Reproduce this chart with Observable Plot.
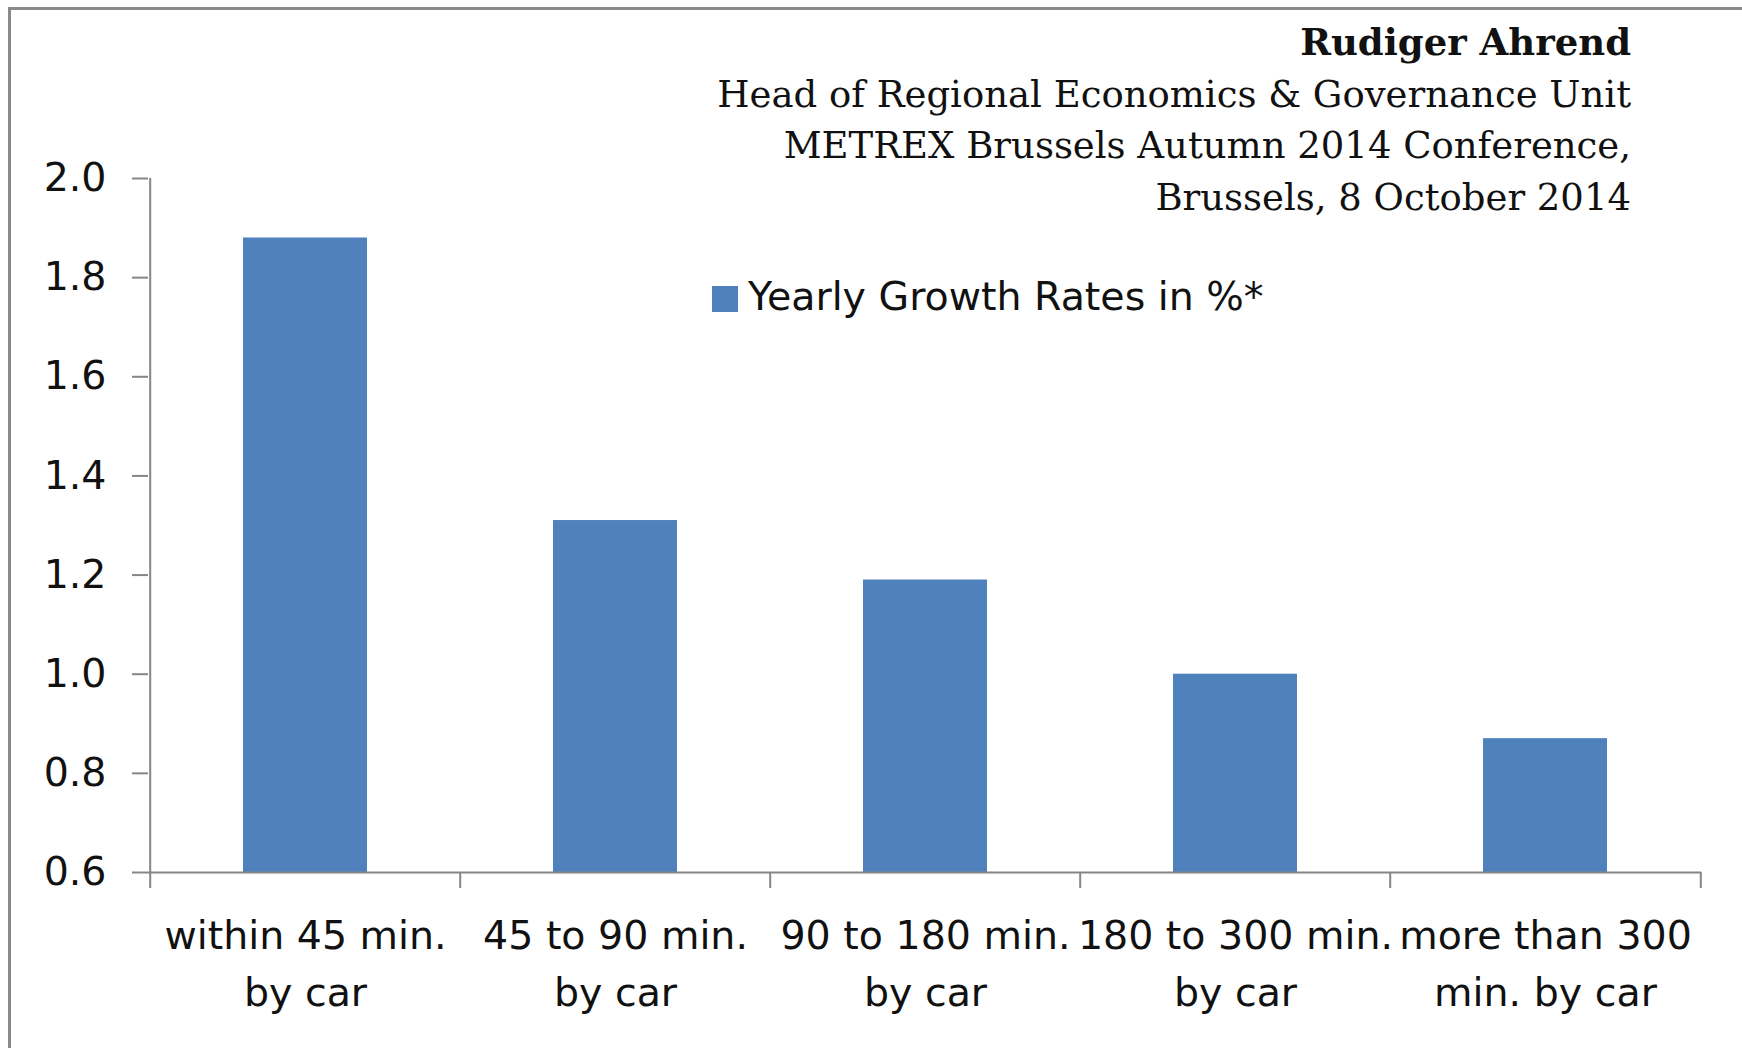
<!DOCTYPE html>
<html>
<head>
<meta charset="utf-8">
<script src="https://cdn.jsdelivr.net/npm/d3@7"></script>
<script src="https://cdn.jsdelivr.net/npm/@observablehq/plot@0.6"></script>
<style>
  html, body { margin: 0; padding: 0; background: #fff; overflow: hidden; }
  #wrap { position: relative; width: 1742px; height: 1048px; overflow: hidden; }
  #border { position: absolute; left: 8px; top: 7px; width: 1800px; height: 1100px;
            border-top: 3px solid #8a8a8a; border-left: 3px solid #8a8a8a; box-sizing: border-box; }
  #chart { position: absolute; left: 0; top: 0; }
  #header { position: absolute; right: 111px; top: 17px; text-align: right;
            font-family: "DejaVu Serif", serif; font-size: 37px; line-height: 51.5px; color: #111; z-index: 2; }
  #header .name { font-weight: bold; }
  #legend-swatch { position: absolute; left: 712px; top: 286px; width: 26px; height: 26px; z-index: 2; }
  #legend-text { position: absolute; left: 748px; top: 277px; font-family: "DejaVu Sans", sans-serif;
                 font-size: 39.5px; line-height: 39.5px; color: #111; white-space: nowrap; z-index: 2; }
  #chart svg g[aria-label="y-axis"] line,
  #chart svg g[aria-label="y-axis"] path,
  #chart svg g[aria-label="y-axis tick"] path { stroke: #868686; stroke-width: 2px; }
</style>
</head>
<body>
<div id="wrap">
  <div id="border"></div>
  <div id="chart"></div>
  <div id="header"></div>
  <div id="legend-swatch"></div>
  <div id="legend-text"></div>
</div>
<script>
// ---- data ----
const categories = [
  "within 45 min. by car",
  "45 to 90 min. by car",
  "90 to 180 min. by car",
  "180 to 300 min. by car",
  "more than 300 min. by car"
];
const categoryLabels = [
  "within 45 min.\nby car",
  "45 to 90 min.\nby car",
  "90 to 180 min.\nby car",
  "180 to 300 min.\nby car",
  "more than 300\nmin. by car"
];
const growthRates = [1.88, 1.31, 1.19, 1.00, 0.87];
const yTicks = [0.6, 0.8, 1.0, 1.2, 1.4, 1.6, 1.8, 2.0];
const seriesName = "Yearly Growth Rates in %*";
const headerLines = [
  "Rudiger Ahrend",
  "Head of Regional Economics & Governance Unit",
  "METREX Brussels Autumn 2014 Conference,",
  "Brussels, 8 October 2014"
];

// ---- styling / layout ----
const barColor = "#4F81BD";
const axisColor = "#868686";
const W = 1742, H = 1048;
const mL = 148, mR = 41, mT = 178, mB = 176;
const step = (W - mL - mR) / categories.length;

const rows = categories.map((c, i) => ({category: c, value: growthRates[i], label: categoryLabels[i]}));
const yMin = yTicks[0], yMax = yTicks[yTicks.length - 1];

const chart = Plot.plot({
  width: W,
  height: H,
  marginLeft: mL,
  marginRight: mR,
  marginTop: mT,
  marginBottom: mB,
  style: {fontFamily: "DejaVu Sans, sans-serif", fontSize: "39.5px", color: "#111", background: "transparent"},
  x: {domain: categories, paddingInner: 0.6, paddingOuter: 0.3, axis: null},
  y: {domain: [yMin, yMax], ticks: yTicks, tickFormat: d => d.toFixed(1), tickSize: 16, tickPadding: 26, label: null},
  marks: [
    Plot.barY(rows, {x: "category", y1: yMin, y2: "value", fill: barColor}),
    // x axis baseline
    Plot.ruleY([yMin], {stroke: axisColor, strokeWidth: 2}),
    // y axis line at left edge of first band step
    Plot.ruleX([categories[0]], {x: d => d, y1: yMin, y2: yMax, dx: -step / 2, stroke: axisColor, strokeWidth: 2}),
    // category boundary ticks
    Plot.ruleX(categories, {x: d => d, y1: yMin, y2: yMin, dx: -step / 2, insetBottom: -16, stroke: axisColor, strokeWidth: 2}),
    Plot.ruleX([categories[categories.length - 1]], {x: d => d, y1: yMin, y2: yMin, dx: step / 2, insetBottom: -16, stroke: axisColor, strokeWidth: 2}),
    // category labels
    Plot.text(rows, {x: "category", y: yMin, text: "label", dy: 36, lineAnchor: "top", lineHeight: 1.45, fontSize: 39.5, fill: "#111"})
  ]
});
document.getElementById("chart").appendChild(chart);

// header
const header = document.getElementById("header");
headerLines.forEach((t, i) => {
  const d = document.createElement("div");
  d.textContent = t;
  if (i === 0) d.className = "name";
  header.appendChild(d);
});

// legend
document.getElementById("legend-swatch").style.background = barColor;
document.getElementById("legend-text").textContent = seriesName;
</script>
</body>
</html>
